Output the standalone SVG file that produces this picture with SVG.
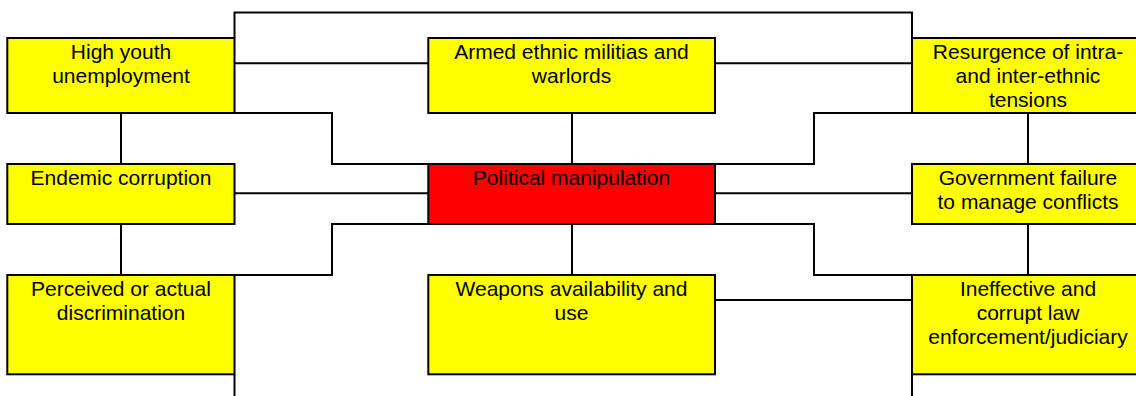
<svg xmlns="http://www.w3.org/2000/svg" width="1136" height="396" viewBox="0 0 1136 396">
  <style>
    .box { fill: #ffff00; stroke: #000; stroke-width: 2; }
    .core { fill: #ff0000; stroke: #000; stroke-width: 2; }
    .lbl { font-family: "Liberation Sans", Arial, sans-serif; font-size: 21px; fill: #000; text-anchor: middle; }
    .wire { fill: none; stroke: #000; stroke-width: 2; }
  </style>
  <rect width="1136" height="396" fill="#fff"/>

  <!-- connectors -->
  <g id="connectors" class="wire">
    <polyline points="234.5,38 234.5,12.5 912,12.5 912,38"/>
    <line x1="234.5" y1="63.3" x2="428" y2="63.3"/>
    <line x1="715" y1="63.3" x2="912" y2="63.3"/>
    <polyline points="234.5,113 332,113 332,164 428,164"/>
    <polyline points="912,113 814,113 814,164 715,164"/>
    <line x1="121" y1="113" x2="121" y2="164"/>
    <line x1="572" y1="113" x2="572" y2="164"/>
    <line x1="1028" y1="113" x2="1028" y2="164"/>
    <line x1="234.5" y1="193.3" x2="428" y2="193.3"/>
    <line x1="715" y1="193.3" x2="912" y2="193.3"/>
    <polyline points="428,224 332,224 332,275 234.5,275"/>
    <polyline points="715,224 814,224 814,275 912,275"/>
    <line x1="121" y1="224" x2="121" y2="275"/>
    <line x1="572" y1="224" x2="572" y2="275"/>
    <line x1="1028" y1="224" x2="1028" y2="275"/>
    <line x1="715" y1="300" x2="912" y2="300"/>
    <line x1="234.5" y1="374.3" x2="234.5" y2="396"/>
    <line x1="912" y1="374.3" x2="912" y2="396"/>
  </g>

  <!-- top row -->
  <g id="youth-unemployment">
    <rect class="box" x="7.3" y="38" width="227.2" height="75"/>
    <text class="lbl" x="121" y="59">High youth</text>
    <text class="lbl" x="121" y="82.7">unemployment</text>
  </g>
  <g id="armed-militias">
    <rect class="box" x="428.3" y="38" width="286.7" height="75"/>
    <text class="lbl" x="571.5" y="59">Armed ethnic militias and</text>
    <text class="lbl" x="571.5" y="82.7">warlords</text>
  </g>
  <g id="ethnic-tensions">
    <rect class="box" x="912" y="38" width="232" height="75"/>
    <text class="lbl" x="1028" y="59">Resurgence of intra-</text>
    <text class="lbl" x="1028" y="82.7">and inter-ethnic</text>
    <text class="lbl" x="1028" y="107">tensions</text>
  </g>

  <!-- middle row -->
  <g id="endemic-corruption">
    <rect class="box" x="7.3" y="164" width="227.2" height="60"/>
    <text class="lbl" x="121" y="184.5">Endemic corruption</text>
  </g>
  <g id="political-manipulation">
    <rect class="core" x="428.3" y="164" width="286.7" height="60"/>
    <text class="lbl" x="571.5" y="184.5">Political manipulation</text>
  </g>
  <g id="government-failure">
    <rect class="box" x="912" y="164" width="232" height="60"/>
    <text class="lbl" x="1028" y="184.5">Government failure</text>
    <text class="lbl" x="1028" y="208.5">to manage conflicts</text>
  </g>

  <!-- bottom row -->
  <g id="discrimination">
    <rect class="box" x="7.3" y="275" width="227.2" height="99.3"/>
    <text class="lbl" x="121" y="295.7">Perceived or actual</text>
    <text class="lbl" x="121" y="320">discrimination</text>
  </g>
  <g id="weapons">
    <rect class="box" x="428.3" y="275" width="286.7" height="99.3"/>
    <text class="lbl" x="571.5" y="295.7">Weapons availability and</text>
    <text class="lbl" x="571.5" y="320">use</text>
  </g>
  <g id="law-enforcement">
    <rect class="box" x="912" y="275" width="232" height="99.3"/>
    <text class="lbl" x="1028" y="295.7">Ineffective and</text>
    <text class="lbl" x="1028" y="320">corrupt law</text>
    <text class="lbl" x="1028" y="344.2">enforcement/judiciary</text>
  </g>
</svg>
